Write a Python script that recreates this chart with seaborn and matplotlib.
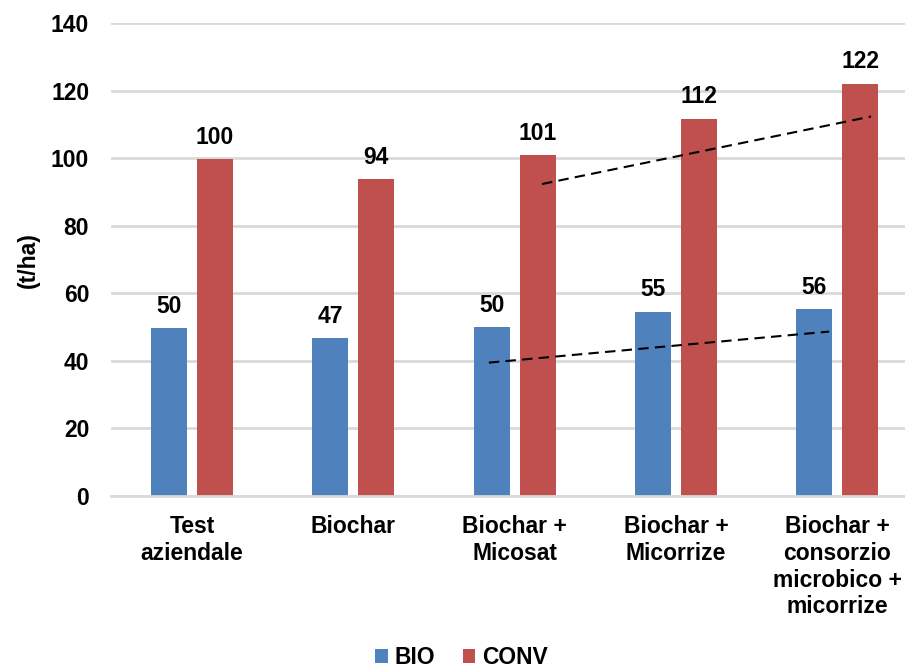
import matplotlib
matplotlib.use("Agg")
import matplotlib.pyplot as plt
import seaborn as sns
import pandas as pd
from matplotlib.patches import Patch

categories = ["Test\naziendale", "Biochar", "Biochar +\nMicosat", "Biochar +\nMicorrize",
              "Biochar +\nconsorzio\nmicrobico +\nmicorrize"]
bio = [49.8, 46.8, 50.0, 54.6, 55.4]
conv = [99.7, 93.9, 101.0, 111.8, 122.1]
bio_labels = ["50", "47", "50", "55", "56"]
conv_labels = ["100", "94", "101", "112", "122"]
series = ["BIO", "CONV"]
colors = ["#4F81BD", "#C0504D"]
y_ticks = [0, 20, 40, 60, 80, 100, 120, 140]

# dashed trend lines (category units, data units)
trend_bio_x = [1.84, 3.95]
trend_bio_y = [39.5, 48.7]
trend_conv_x = [2.17, 4.21]
trend_conv_y = [92.4, 112.4]

df = pd.DataFrame({
    "cat": categories * 2,
    "val": bio + conv,
    "series": ["BIO"] * len(categories) + ["CONV"] * len(categories),
})

sns.set_theme(style="white")
plt.rcParams["font.family"] = ["Liberation Sans", "DejaVu Sans"]
plt.rcParams["font.weight"] = "bold"
plt.rcParams["text.color"] = "black"
plt.rcParams["axes.labelcolor"] = "black"
plt.rcParams["xtick.color"] = "black"
plt.rcParams["ytick.color"] = "black"

FS = 16.5

fig = plt.figure(figsize=(9.05, 6.68), dpi=100)
ax = fig.add_axes([111.4 / 905, (668 - 496) / 668, (905 - 111.4) / 905, (496 - 23.3) / 668])

sns.barplot(data=df, x="cat", y="val", hue="series", palette=colors, width=0.572, gap=0.22,
            ax=ax, legend=False, saturation=1, edgecolor="none")

ax.set_xlim(-0.5, 4.42)
ax.set_ylim(0, 140)
ax.set_yticks(y_ticks)
ax.yaxis.grid(True, color="#D9D9D9", linewidth=2)
ax.set_axisbelow(True)
for s in ["top", "right", "left"]:
    ax.spines[s].set_visible(False)
ax.spines["bottom"].set_color("#D9D9D9")
ax.spines["bottom"].set_linewidth(2)
ax.tick_params(axis="y", length=0, pad=16, labelsize=FS, labelcolor="black")
ax.tick_params(axis="x", length=0, pad=14, labelsize=FS, labelcolor="black")
for t in ax.get_xticklabels():
    t.set_fontweight("bold")
    t.set_linespacing(1.2)
for t in ax.get_yticklabels():
    t.set_fontweight("bold")
ax.set_xlabel("")
ax.set_ylabel("(t/ha)", fontsize=FS, fontweight="bold", labelpad=8, color="black")

offset = 0.143
for i in range(len(categories)):
    ax.annotate(bio_labels[i], (i - offset, bio[i]), xytext=(0, 11), textcoords="offset points",
                ha="center", va="baseline", fontsize=FS, fontweight="bold", color="black")
    ax.annotate(conv_labels[i], (i + offset, conv[i]), xytext=(0, 11), textcoords="offset points",
                ha="center", va="baseline", fontsize=FS, fontweight="bold", color="black")

ax.plot(trend_bio_x, trend_bio_y, color="black", linestyle=(0, (5, 3)), linewidth=1.5)
ax.plot(trend_conv_x, trend_conv_y, color="black", linestyle=(0, (5, 3)), linewidth=1.5)

handles = [Patch(facecolor=c, edgecolor="none") for c in colors]
fig.legend(handles, series, loc="center", bbox_to_anchor=(0.51, 0.015), ncol=2, frameon=False,
           prop={"size": FS, "weight": "bold"}, handlelength=0.55, handleheight=0.55,
           handletextpad=0.3, columnspacing=1.2, borderpad=0.1, labelcolor="black")

fig.savefig("out.png", dpi=100)
